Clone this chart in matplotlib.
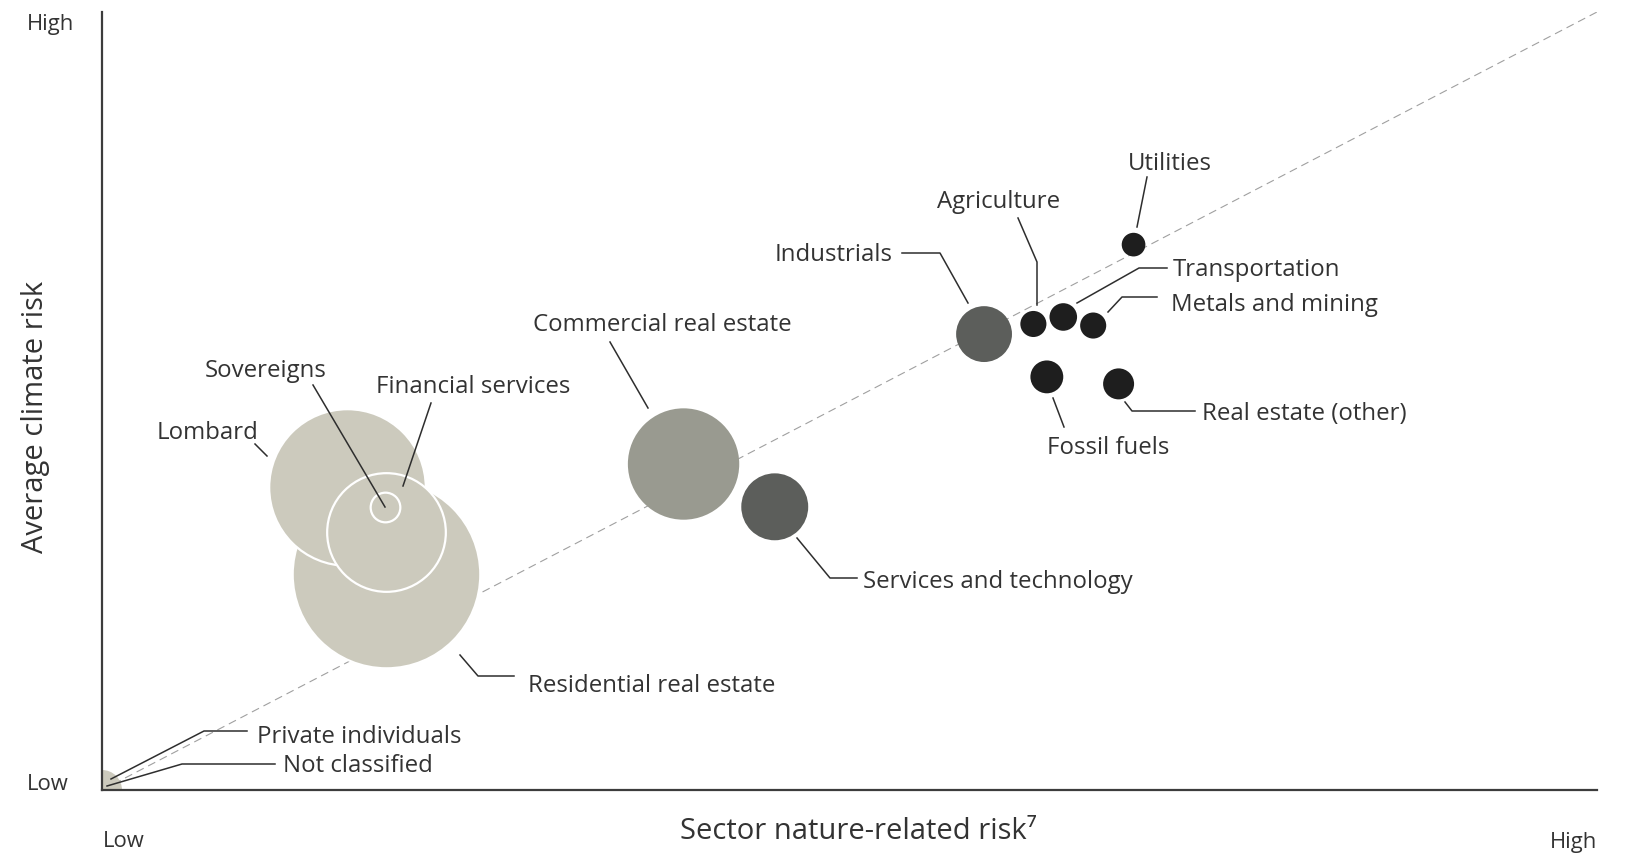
"""Bubble chart: sector nature-related risk vs average climate risk."""

import matplotlib

matplotlib.use("Agg")
import matplotlib.pyplot as plt
from matplotlib.lines import Line2D

W, H = 1631, 857

# sectors in drawing order (later ones sit on top)
SECTORS = [
    "Private individuals", "Not classified", "Residential real estate", "Lombard",
    "Financial services", "Sovereigns", "Commercial real estate",
    "Services and technology", "Industrials", "Agriculture", "Transportation",
    "Metals and mining", "Utilities", "Fossil fuels", "Real estate (other)",
]
# relative scores, 0 = low, 100 = high
NATURE_RISK = [0.0, 0.0, 19.0, 16.4, 19.0, 18.9, 38.9, 45.0, 59.0, 62.3, 64.3, 66.3, 69.0, 63.2, 68.0]
CLIMATE_RISK = [0.0, 0.0, 27.7, 38.9, 33.1, 36.4, 41.9, 36.4, 58.6, 59.9, 60.8, 59.7, 70.1, 53.1, 52.2]
# relative exposure (bubble area)
EXPOSURE = [4.0, 1.0, 88.0, 61.3, 35.2, 2.2, 31.0, 11.2, 7.8, 1.7, 1.9, 1.7, 1.4, 2.7, 2.4]

LIGHT, MID, DARK, BLACK = "#cccabd", "#999a90", "#5c5e5b", "#1e1e1e"
COLORS = {
    "Private individuals": LIGHT, "Not classified": LIGHT,
    "Residential real estate": LIGHT, "Lombard": LIGHT,
    "Financial services": LIGHT, "Sovereigns": LIGHT,
    "Commercial real estate": MID, "Services and technology": DARK,
    "Industrials": DARK,
}
WHITE_EDGE = {"Residential real estate", "Lombard", "Financial services", "Sovereigns"}
SIZE_SCALE = 207.4  # exposure -> points^2

# label layout in figure pixels: text x, baseline y, alignment, leader path
LABELS = {
    "Utilities": (1128, 170, "left", [(1147, 177), (1137, 227)]),
    "Agriculture": (937, 208, "left", [(1018, 218), (1037, 262), (1037, 305)]),
    "Industrials": (893, 261, "right", [(902, 253), (940, 253), (968, 303)]),
    "Transportation": (1173, 276, "left", [(1167, 268), (1139, 268), (1077, 303)]),
    "Metals and mining": (1171, 311, "left", [(1157, 297), (1122, 297), (1108, 312)]),
    "Fossil fuels": (1047, 454, "left", [(1053, 398), (1064, 427)]),
    "Real estate (other)": (1202, 420, "left", [(1125, 402), (1132, 411), (1195, 411)]),
    "Commercial real estate": (533, 331, "left", [(610, 342), (648, 408)]),
    "Services and technology": (863, 588, "left", [(797, 538), (830, 578), (857, 578)]),
    "Residential real estate": (528, 692, "left", [(460, 655), (478, 676), (514, 676)]),
    "Lombard": (157, 439, "left", [(255, 444), (267, 456)]),
    "Sovereigns": (205, 377, "left", [(313, 385), (385, 507)]),
    "Financial services": (376, 393, "left", [(431, 403), (403, 486)]),
    "Private individuals": (257, 743, "left", [(111, 779), (204, 731), (247, 731)]),
    "Not classified": (283, 772, "left", [(107, 786), (182, 764), (275, 764)]),
}

TEXT = "#333333"


def fxy(px, py):
    return px / W, 1 - py / H


def main():
    plt.rcParams["font.family"] = ["Open Sans", "DejaVu Sans"]
    fig = plt.figure(figsize=(W / 100, H / 100), dpi=100)
    ax = fig.add_axes([102 / W, (H - 790) / H, 1495 / W, 778 / H])
    ax.set_xlim(0, 100)
    ax.set_ylim(0, 100)
    ax.set_xticks([])
    ax.set_yticks([])
    for side in ("top", "right"):
        ax.spines[side].set_visible(False)
    for side in ("left", "bottom"):
        ax.spines[side].set_color("#3c3c3c")
        ax.spines[side].set_linewidth(1.6)
        ax.spines[side].set_zorder(50)

    ax.plot([0, 100], [0, 100], color="#a0a0a0", lw=0.8,
            linestyle=(0, (7.2, 4.5)), zorder=1)

    for i, name in enumerate(SECTORS):
        edge = "white" if name in WHITE_EDGE else "none"
        ax.scatter(NATURE_RISK[i], CLIMATE_RISK[i], s=EXPOSURE[i] * SIZE_SCALE,
                   color=COLORS.get(name, BLACK), edgecolors=edge,
                   linewidths=1.6 if edge == "white" else 0, zorder=2 + i)

    for name, (tx, ty, ha, path) in LABELS.items():
        xs, ys = zip(*[fxy(px, py) for px, py in path])
        fig.add_artist(Line2D(xs, ys, color="#2e2e2e", lw=1.1,
                              transform=fig.transFigure, zorder=60))
        fig.text(*fxy(tx, ty), name, ha=ha, va="baseline", fontsize=17.3,
                 color=TEXT)

    # axis end labels and titles
    fig.text(*fxy(27, 30), "High", ha="left", va="baseline", fontsize=15.8, color=TEXT)
    fig.text(*fxy(27, 790), "Low", ha="left", va="baseline", fontsize=15.8, color=TEXT)
    fig.text(*fxy(103, 847), "Low", ha="left", va="baseline", fontsize=15.8, color=TEXT)
    fig.text(*fxy(1597, 848), "High", ha="right", va="baseline", fontsize=15.8, color=TEXT)
    fig.text(*fxy(36, 417), "Average climate risk", rotation=90, ha="center",
             va="center", fontsize=21, color=TEXT)
    fig.text(*fxy(858, 839), "Sector nature-related risk\u2077", ha="center",
             va="baseline", fontsize=21, color=TEXT)

    fig.savefig("out.png", dpi=100)
    plt.close(fig)


if __name__ == "__main__":
    main()
